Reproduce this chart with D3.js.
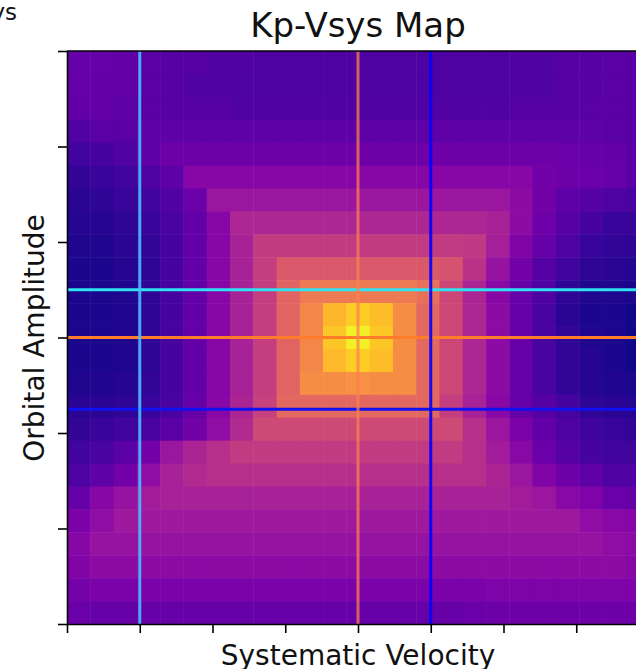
<!DOCTYPE html>
<html><head><meta charset="utf-8">
<script src="https://cdn.jsdelivr.net/npm/d3@7"></script>
<style>
body{margin:0;background:#fff;}
svg{display:block;font-family:"DejaVu Sans",sans-serif;}
</style>
</head><body>
<svg id="chart" width="636" height="669"></svg>
<script>
// Grid of the Kp-Vsys map: 25 velocity bins by 25 Kp bins
const vsysCenters = [-38.4,-35.2,-32.0,-28.8,-25.6,-22.4,-19.2,-16.0,-12.8,-9.6,-6.4,-3.2,0.0,3.2,6.4,9.6,12.8,16.0,19.2,22.4,25.6,28.8,32.0,35.2,38.4];
const kpCenters = [217.6,212.8,208.0,203.2,198.4,193.6,188.8,184.0,179.2,174.4,169.6,164.8,160.0,155.2,150.4,145.6,140.8,136.0,131.2,126.4,121.6,116.8,112.0,107.2,102.4];
const vsysTicks = [-40,-30,-20,-10,0,10,20,30,40];
const kpTicks = [100,120,140,160,180,200,220];

// Normalised correlation strength, one row per Kp bin (top row = highest Kp)
const correlation = [
[0.19,0.19,0.18,0.16,0.15,0.15,0.14,0.14,0.13,0.13,0.13,0.13,0.13,0.13,0.13,0.13,0.13,0.13,0.13,0.14,0.14,0.15,0.15,0.16,0.16],
[0.19,0.18,0.18,0.16,0.15,0.14,0.14,0.13,0.13,0.13,0.13,0.13,0.13,0.13,0.13,0.13,0.13,0.13,0.13,0.14,0.14,0.15,0.15,0.16,0.16],
[0.18,0.18,0.17,0.16,0.15,0.15,0.15,0.14,0.14,0.14,0.14,0.14,0.14,0.14,0.14,0.14,0.14,0.14,0.14,0.15,0.15,0.15,0.16,0.16,0.16],
[0.14,0.16,0.16,0.17,0.17,0.17,0.17,0.17,0.17,0.17,0.17,0.17,0.17,0.17,0.17,0.17,0.17,0.17,0.17,0.17,0.17,0.17,0.17,0.16,0.16],
[0.10,0.11,0.14,0.17,0.21,0.21,0.21,0.21,0.21,0.21,0.21,0.21,0.21,0.21,0.21,0.21,0.21,0.21,0.21,0.21,0.21,0.20,0.19,0.18,0.16],
[0.07,0.08,0.10,0.13,0.17,0.27,0.27,0.27,0.27,0.27,0.27,0.27,0.27,0.27,0.27,0.27,0.27,0.27,0.27,0.27,0.22,0.21,0.20,0.19,0.16],
[0.05,0.06,0.08,0.10,0.14,0.20,0.33,0.33,0.33,0.33,0.33,0.33,0.33,0.33,0.33,0.33,0.33,0.33,0.33,0.29,0.22,0.17,0.15,0.13,0.12],
[0.04,0.04,0.06,0.08,0.12,0.18,0.27,0.39,0.39,0.39,0.39,0.39,0.39,0.39,0.39,0.39,0.39,0.39,0.37,0.29,0.21,0.15,0.11,0.08,0.08],
[0.03,0.03,0.05,0.07,0.11,0.18,0.27,0.37,0.46,0.46,0.46,0.46,0.46,0.46,0.46,0.46,0.46,0.45,0.36,0.26,0.19,0.13,0.08,0.07,0.06],
[0.02,0.02,0.04,0.06,0.11,0.18,0.27,0.37,0.47,0.56,0.56,0.56,0.56,0.56,0.56,0.56,0.54,0.43,0.32,0.22,0.15,0.10,0.06,0.05,0.04],
[0.02,0.02,0.03,0.06,0.11,0.18,0.27,0.37,0.47,0.60,0.67,0.67,0.67,0.67,0.67,0.64,0.50,0.38,0.28,0.19,0.13,0.06,0.03,0.03,0.02],
[0.02,0.02,0.03,0.06,0.11,0.18,0.27,0.37,0.47,0.60,0.71,0.84,0.90,0.86,0.73,0.61,0.50,0.39,0.29,0.19,0.12,0.05,0.02,0.02,0.01],
[0.02,0.02,0.03,0.06,0.11,0.18,0.27,0.37,0.47,0.60,0.71,0.88,0.98,0.88,0.73,0.61,0.50,0.39,0.29,0.19,0.12,0.07,0.03,0.02,0.01],
[0.02,0.02,0.03,0.06,0.11,0.18,0.27,0.37,0.47,0.60,0.71,0.85,0.90,0.86,0.73,0.61,0.50,0.39,0.29,0.19,0.12,0.07,0.04,0.02,0.01],
[0.03,0.03,0.04,0.07,0.11,0.18,0.27,0.37,0.47,0.60,0.73,0.73,0.74,0.73,0.73,0.61,0.50,0.39,0.29,0.19,0.12,0.07,0.04,0.03,0.02],
[0.05,0.05,0.06,0.08,0.12,0.19,0.28,0.38,0.48,0.61,0.61,0.61,0.61,0.61,0.61,0.61,0.47,0.37,0.28,0.19,0.15,0.11,0.06,0.05,0.04],
[0.07,0.08,0.10,0.12,0.16,0.22,0.30,0.40,0.51,0.51,0.51,0.51,0.51,0.51,0.51,0.51,0.51,0.42,0.33,0.24,0.18,0.13,0.09,0.08,0.07],
[0.10,0.12,0.16,0.22,0.33,0.38,0.42,0.46,0.46,0.46,0.46,0.46,0.46,0.46,0.46,0.46,0.46,0.42,0.35,0.28,0.20,0.15,0.11,0.10,0.10],
[0.13,0.17,0.22,0.30,0.37,0.40,0.42,0.42,0.42,0.42,0.42,0.42,0.42,0.42,0.42,0.42,0.42,0.42,0.38,0.33,0.26,0.21,0.17,0.14,0.14],
[0.19,0.27,0.32,0.35,0.37,0.37,0.37,0.37,0.37,0.37,0.37,0.37,0.37,0.37,0.37,0.37,0.37,0.37,0.37,0.35,0.33,0.28,0.25,0.20,0.19],
[0.24,0.30,0.34,0.34,0.34,0.34,0.34,0.34,0.34,0.34,0.34,0.34,0.34,0.34,0.34,0.34,0.34,0.34,0.34,0.34,0.34,0.34,0.30,0.28,0.27],
[0.27,0.32,0.32,0.32,0.32,0.32,0.32,0.32,0.32,0.32,0.32,0.32,0.32,0.32,0.32,0.32,0.32,0.32,0.32,0.32,0.32,0.32,0.32,0.30,0.29],
[0.26,0.29,0.29,0.29,0.29,0.29,0.29,0.29,0.29,0.29,0.29,0.29,0.29,0.29,0.29,0.29,0.29,0.29,0.29,0.29,0.29,0.29,0.29,0.29,0.28],
[0.23,0.24,0.24,0.24,0.24,0.24,0.24,0.24,0.24,0.24,0.24,0.24,0.24,0.24,0.24,0.24,0.24,0.24,0.25,0.25,0.25,0.25,0.25,0.25,0.25],
[0.20,0.19,0.19,0.19,0.19,0.19,0.19,0.19,0.19,0.19,0.19,0.19,0.19,0.19,0.19,0.19,0.19,0.20,0.21,0.21,0.21,0.21,0.21,0.21,0.21]
];

// Reference velocities and orbital amplitudes marked on the map
const markVsys = [-30, 0, 10];
const markVsysColors = ["rgba(70,190,255,0.9)", "rgba(255,127,80,0.75)", "rgba(0,0,255,0.9)"];
const markKp = [170, 160, 145];
const markKpColors = ["#2fe2f2", "#ff7d2a", "#1010f0"];

const svg = d3.select("#chart");
const plot = {left: 67, top: 51, width: 582, height: 573};

const x = d3.scaleLinear().domain([-40, 40]).range([plot.left, plot.left + plot.width]);
const y = d3.scaleLinear().domain([100, 220]).range([plot.top + plot.height, plot.top]);
const color = d3.scaleSequential(d3.interpolatePlasma).domain([0, 1]);

const dv = 3.2, dk = 4.8;
const cells = [];
correlation.forEach((row, i) => row.forEach((v, j) => cells.push({vsys: vsysCenters[j], kp: kpCenters[i], v})));

svg.append("g").attr("class", "cells")
  .selectAll("rect").data(cells).join("rect")
  .attr("x", d => x(d.vsys - dv / 2))
  .attr("y", d => y(d.kp + dk / 2))
  .attr("width", d => x(d.vsys + dv / 2) - x(d.vsys - dv / 2) + 0.5)
  .attr("height", d => y(d.kp - dk / 2) - y(d.kp + dk / 2) + 0.5)
  .attr("fill", d => color(d.v));

// horizontal markers first, vertical markers on top
svg.append("g").selectAll("line").data(markKp).join("line")
  .attr("x1", plot.left).attr("x2", plot.left + plot.width)
  .attr("y1", d => y(d)).attr("y2", d => y(d))
  .attr("stroke", (d, i) => markKpColors[i]).attr("stroke-width", 3);

svg.append("g").selectAll("line").data(markVsys).join("line")
  .attr("y1", plot.top).attr("y2", plot.top + plot.height)
  .attr("x1", d => x(d)).attr("x2", d => x(d))
  .attr("stroke", (d, i) => markVsysColors[i]).attr("stroke-width", 3);

// axes without tick labels
const xAxis = d3.axisBottom(x).tickValues(vsysTicks).tickFormat("").tickSize(9).tickSizeOuter(0);
const yAxis = d3.axisLeft(y).tickValues(kpTicks).tickFormat("").tickSize(9).tickSizeOuter(0);
const gx = svg.append("g").attr("transform", `translate(0,${plot.top + plot.height})`).call(xAxis);
const gy = svg.append("g").attr("transform", `translate(${plot.left},0)`).call(yAxis);
[gx, gy].forEach(g => {
  g.select(".domain").attr("stroke", "#000").attr("stroke-width", 1.6);
  g.selectAll(".tick line").attr("stroke", "#000").attr("stroke-width", 1.6);
});
// top spine
svg.append("line").attr("x1", plot.left).attr("x2", plot.left + plot.width)
  .attr("y1", plot.top).attr("y2", plot.top).attr("stroke", "#000").attr("stroke-width", 1.6);

svg.append("text").attr("x", plot.left + plot.width / 2).attr("y", 37)
  .attr("text-anchor", "middle").attr("font-size", 34).attr("fill", "#111").text("Kp-Vsys Map");
svg.append("text").attr("x", 17).attr("y", 20)
  .attr("text-anchor", "end").attr("font-size", 23).attr("fill", "#111").text("Vsys");
svg.append("text").attr("x", 358).attr("y", 665)
  .attr("text-anchor", "middle").attr("font-size", 28).attr("fill", "#111").text("Systematic Velocity");
svg.append("text").attr("transform", "translate(44,338) rotate(-90)")
  .attr("text-anchor", "middle").attr("font-size", 28).attr("fill", "#111").text("Orbital Amplitude");
</script>
</body></html>
